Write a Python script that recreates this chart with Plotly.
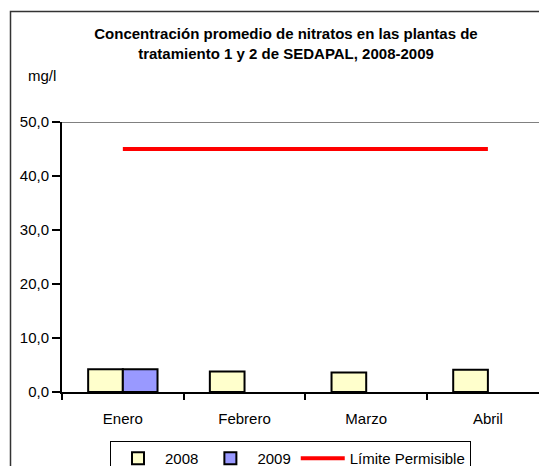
import plotly.graph_objects as go

# Data
MESES = ["Enero", "Febrero", "Marzo", "Abril"]
NITRATOS_2008 = [4.2, 3.8, 3.6, 4.1]
NITRATOS_2009 = [4.2, None, None, None]
LIMITE_PERMISIBLE = [45.0, 45.0, 45.0, 45.0]
Y_TICKS = [0, 10, 20, 30, 40, 50]

FONT = "Liberation Sans, Arial, sans-serif"

W, H = 539, 466
M_L, M_R, M_T, M_B = 62, 0, 122, 74
PLOT_W = W - M_L - M_R
PLOT_H = H - M_T - M_B

X_RANGE = [-0.5, 3.42]
Y_RANGE = [0, 50]

fig = go.Figure()

fig.add_trace(go.Bar(
    x=MESES, y=NITRATOS_2008, name="2008",
    marker=dict(color="#FFFFCC", line=dict(color="black", width=2)),
))
fig.add_trace(go.Bar(
    x=MESES, y=NITRATOS_2009, name="2009",
    marker=dict(color="#9999FF", line=dict(color="black", width=2)),
))
fig.add_trace(go.Scatter(
    x=MESES, y=LIMITE_PERMISIBLE, name="Límite Permisible",
    mode="lines", line=dict(color="#FF0000", width=4),
))

def px_to_paper_x(px):
    return (px - M_L) / PLOT_W

def px_to_paper_y(py):
    return (H - M_B - py) / PLOT_H

fig.update_layout(
    width=W, height=H,
    margin=dict(l=M_L, r=M_R, t=M_T, b=M_B, autoexpand=False),
    paper_bgcolor="white", plot_bgcolor="white",
    font=dict(family=FONT, size=15, color="black"),
    separators=",.",
    barmode="group", bargap=0.43, bargroupgap=0,
    title=dict(
        text="Concentración promedio de nitratos en las plantas de<br>tratamiento 1 y 2 de SEDAPAL, 2008-2009",
        font=dict(family=FONT, size=15, color="black", weight="bold"),
        x=286 / W, xanchor="center", xref="container",
        y=1 - 39 / H, yanchor="top", yref="container",
    ),
    xaxis=dict(
        range=X_RANGE, showgrid=False, zeroline=False, automargin=False,
        showline=True, linecolor="black", linewidth=2,
        ticks="outside", ticklen=6, tickwidth=2, tickcolor="black",
        tickson="boundaries", ticklabelstandoff=12,
        tickfont=dict(size=15),
    ),
    xaxis2=dict(
        overlaying="x", anchor="y", range=X_RANGE, automargin=False,
        tickvals=[-0.5, 0.5, 1.5, 2.5], showticklabels=False,
        ticks="inside", ticklen=6, tickwidth=2, tickcolor="black",
        showgrid=False, zeroline=False, showline=False,
    ),
    yaxis=dict(
        range=Y_RANGE, tickvals=Y_TICKS, tickformat=".1f", automargin=False,
        showgrid=False, zeroline=False,
        showline=True, linecolor="black", linewidth=2,
        ticks="outside", ticklen=8, tickwidth=2, tickcolor="black",
        tickfont=dict(size=15),
    ),
    yaxis2=dict(
        overlaying="y", anchor="x", range=Y_RANGE, automargin=False,
        tickvals=Y_TICKS, showticklabels=False,
        ticks="inside", ticklen=6, tickwidth=2, tickcolor="black",
        showgrid=False, zeroline=False, showline=False,
    ),
    legend=dict(
        orientation="h",
        x=px_to_paper_x(110), xanchor="left",
        y=px_to_paper_y(441), yanchor="top",
        bordercolor="black", borderwidth=1,
        bgcolor="white",
        font=dict(size=15),
        itemwidth=44,
    ),
    showlegend=True,
    shapes=[
        # gray top border of plot area at 50
        dict(type="line", xref="paper", yref="y", x0=0, x1=1, y0=50, y1=50,
             line=dict(color="#808080", width=2), layer="below"),
        # outer chart border
        dict(type="rect", xref="paper", yref="paper",
             x0=px_to_paper_x(10.5), x1=px_to_paper_x(560),
             y0=px_to_paper_y(11.5), y1=px_to_paper_y(480),
             line=dict(color="#333333", width=1.5), fillcolor="rgba(0,0,0,0)"),
    ],
    annotations=[
        dict(text="mg/l", xref="paper", yref="paper",
             x=px_to_paper_x(42), y=px_to_paper_y(75),
             xanchor="center", yanchor="middle", showarrow=False,
             font=dict(size=15)),
    ],
)

# drop the default page margin so the figure sits at the window's corner
fig.write_html(
    "out.html",
    config={"displayModeBar": False},
    post_script="document.body.style.margin='0';document.body.style.overflow='hidden';",
)
